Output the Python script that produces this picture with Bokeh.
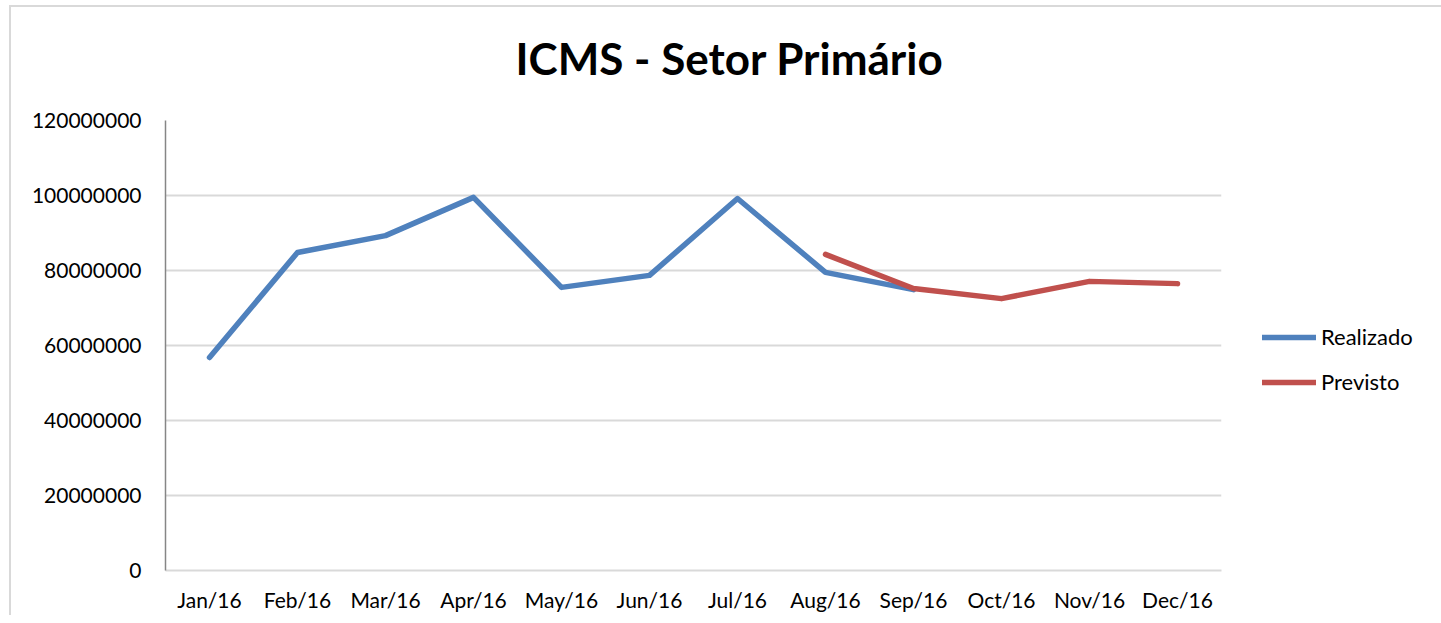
from bokeh.plotting import figure
from bokeh.models import (FactorRange, Range1d, FixedTicker, BasicTickFormatter,
                          Legend, LegendItem, Title)
from bokeh.embed import file_html
from bokeh.resources import INLINE

months = ["Jan/16", "Feb/16", "Mar/16", "Apr/16", "May/16", "Jun/16",
          "Jul/16", "Aug/16", "Sep/16", "Oct/16", "Nov/16", "Dec/16"]
realizado_months = months[:9]
realizado = [56.8e6, 84.8e6, 89.3e6, 99.5e6, 75.5e6, 78.7e6, 99.2e6, 79.5e6, 74.9e6]
previsto_months = months[7:]
previsto = [84.3e6, 75.2e6, 72.5e6, 77.1e6, 76.5e6]
y_ticks = [0, 20e6, 40e6, 60e6, 80e6, 100e6, 120e6]

FONT = "Lato"

p = figure(x_range=FactorRange(*months), y_range=Range1d(0, 120e6),
           frame_width=1056, frame_height=450,
           min_border_left=154, min_border_right=209,
           min_border_top=113, min_border_bottom=45,
           output_backend="svg", toolbar_location=None,
           background_fill_color="white", border_fill_color="white",
           styles={"margin": "5px 0px 0px 9px",
                   "border-top": "2px solid #d9d9d9",
                   "border-left": "2px solid #d9d9d9",
                   "border-right": "2px solid #d9d9d9"})
p.outline_line_color = None

r1 = p.line(realizado_months, realizado, line_color="#4F81BD", line_width=5.5,
            line_join="round", line_cap="round")
r2 = p.line(previsto_months, previsto, line_color="#C0504D", line_width=5.5,
            line_join="round", line_cap="round")

p.xgrid.grid_line_color = None
p.ygrid.grid_line_color = "#d9d9d9"
p.ygrid.grid_line_width = 2

p.yaxis.ticker = FixedTicker(ticks=y_ticks)
p.yaxis.formatter = BasicTickFormatter(use_scientific=False)
for ax in (p.xaxis[0], p.yaxis[0]):
    ax.major_tick_line_color = None
    ax.minor_tick_line_color = None
    ax.major_label_text_font = FONT
    ax.major_label_text_font_size = "21px"
    ax.major_label_text_color = "black"
p.yaxis.axis_line_color = "#868686"
p.yaxis.axis_line_width = 1.5
p.yaxis.major_label_standoff = 18
p.xaxis.axis_line_color = "#d9d9d9"
p.xaxis.axis_line_width = 2
p.xaxis.major_label_standoff = 10

spacer = Title(text=" ", text_font=FONT, text_font_size="20px", standoff=0)
p.add_layout(spacer, "above")

title = Title(text="ICMS - Setor Primário", text_font=FONT,
              text_font_style="bold", text_font_size="44px",
              align="left", offset=350, standoff=18,
              vertical_align="top", text_color="black")
p.add_layout(title, "above")

legend = Legend(items=[LegendItem(label="Realizado", renderers=[r1]),
                       LegendItem(label="Previsto", renderers=[r2])],
                location=(41, 175), orientation="vertical",
                glyph_width=54, glyph_height=24, label_height=24,
                spacing=18, padding=0, margin=0, label_standoff=5,
                label_text_font=FONT, label_text_font_size="22px",
                label_text_color="black",
                border_line_color=None, background_fill_alpha=0)
p.add_layout(legend, "right")

open("out.html", "w").write(file_html(p, INLINE))
